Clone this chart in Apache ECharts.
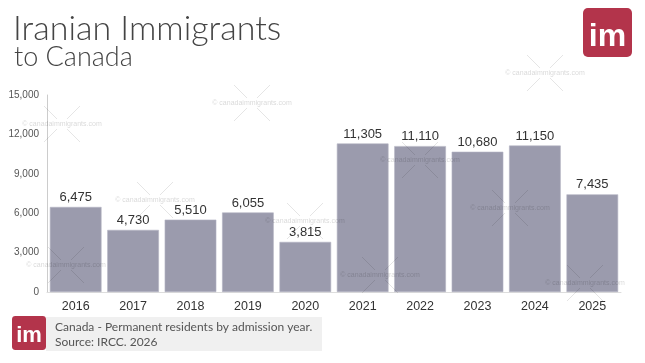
<!DOCTYPE html>
<html><head><meta charset="utf-8">
<script src="https://cdn.jsdelivr.net/npm/echarts@6/dist/echarts.min.js"></script>
<style>html,body{margin:0;padding:0;background:#fff}#c{width:645px;height:363px}</style>
</head><body><div id="c"></div>
<script>
const categories = ['2016','2017','2018','2019','2020','2021','2022','2023','2024','2025'];
const values = [6475, 4730, 5510, 6055, 3815, 11305, 11110, 10680, 11150, 7435];
const yTicks = [0, 3000, 6000, 9000, 12000, 15000];
const titleLine1 = 'Iranian Immigrants';
const titleLine2 = 'to Canada';
const footLine1 = 'Canada - Permanent residents by admission year.';
const footLine2 = 'Source: IRCC. 2026';
const wmText = '© canadaimmigrants.com';
const wmCenters = [[62,124],[252,103],[155,200],[305,221],[66,265],[510,208],[380,275],[420,160],[545,73],[585,283]];

const chart = echarts.init(document.getElementById('c'), null, {renderer:'canvas'});

function logo(x, y, s) {
  return {
    type:'group', x:x, y:y, children:[
      {type:'rect', shape:{x:0,y:0,width:s,height:s,r:s*0.1}, style:{fill:'#b3344b'}},
      {type:'text', style:{x:s/2, y:s*0.6, text:'im', fill:'#fff', font:'bold '+Math.round(s*0.66)+'px "Liberation Sans", Arial', align:'center', verticalAlign:'middle'}}
    ]
  };
}

const wm = [];
wmCenters.forEach(c => {
  const [cx, cy] = c;
  const d = 18;
  wm.push({type:'line', shape:{x1:cx-d,y1:cy-d,x2:cx-5,y2:cy-5}, style:{stroke:'rgba(0,0,0,0.1)', lineWidth:1}, z:10});
  wm.push({type:'line', shape:{x1:cx+5,y1:cy-5,x2:cx+d,y2:cy-d}, style:{stroke:'rgba(0,0,0,0.1)', lineWidth:1}, z:10});
  wm.push({type:'line', shape:{x1:cx-d,y1:cy+d,x2:cx-5,y2:cy+5}, style:{stroke:'rgba(0,0,0,0.1)', lineWidth:1}, z:10});
  wm.push({type:'line', shape:{x1:cx+5,y1:cy+5,x2:cx+d,y2:cy+d}, style:{stroke:'rgba(0,0,0,0.1)', lineWidth:1}, z:10});
  wm.push({type:'text', style:{x:cx, y:cy, text:wmText, fill:'rgba(0,0,0,0.16)', font:'7px "Liberation Sans", Arial', align:'center', verticalAlign:'middle'}, z:10});
});

chart.setOption({
  animation:false,
  grid:{left:47, right:24, top:95, bottom:71},
  xAxis:{
    type:'category', data:categories,
    axisLine:{show:true, lineStyle:{color:'#ddd'}},
    axisTick:{show:false},
    axisLabel:{color:'#333', fontSize:12.5, fontFamily:'Liberation Sans', margin:8}
  },
  yAxis:{
    type:'value', min:0, max:15000, interval:3000,
    axisLine:{show:true, lineStyle:{color:'#ccc'}},
    axisTick:{show:false},
    splitLine:{show:false},
    axisLabel:{color:'#555', fontSize:10, fontFamily:'Liberation Sans', margin:8,
      formatter: v => yTicks.includes(v) ? v.toLocaleString('en-US') : ''}
  },
  series:[{
    type:'bar', data:values, barCategoryGap:'10%',
    itemStyle:{color:'#9b9bad', borderColor:'#b3b3c2', borderWidth:0.6},
    label:{show:true, position:'top', color:'#333', fontSize:13, fontFamily:'Liberation Sans', distance:3,
      formatter: p => p.value.toLocaleString('en-US')}
  }],
  graphic:[
    {type:'text', style:{x:13, y:12, text:titleLine1, fill:'#444', font:'300 34px Lato, "Noto Sans", sans-serif'}},
    {type:'text', style:{x:14, y:44, text:titleLine2, fill:'#444', font:'300 27px Lato, "Noto Sans", sans-serif'}},
    logo(583, 8, 49),
    {type:'rect', shape:{x:46, y:317, width:276, height:34}, style:{fill:'#f0f0f0'}},
    logo(12, 316, 34),
    {type:'text', style:{x:55, y:321, text:footLine1, fill:'#555', font:'12px Lato, "Noto Sans", sans-serif'}},
    {type:'text', style:{x:55, y:336, text:footLine2, fill:'#555', font:'12px Lato, "Noto Sans", sans-serif'}},
    ...wm
  ]
});
</script></body></html>
